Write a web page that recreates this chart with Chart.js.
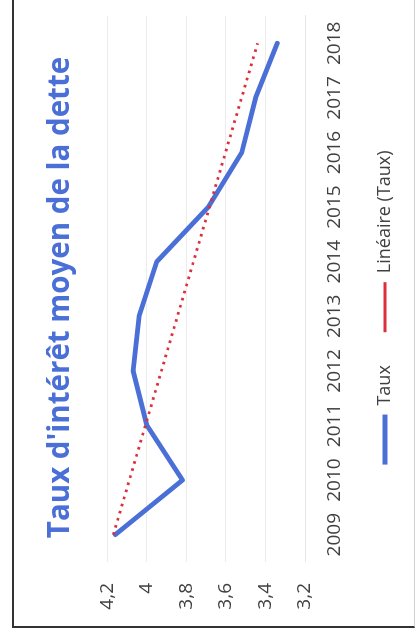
<!DOCTYPE html>
<html>
<head>
<meta charset="utf-8">
<script src="https://cdn.jsdelivr.net/npm/chart.js@4.4.1/dist/chart.umd.min.js"></script>
<style>
  html, body { margin:0; padding:0; background:#fff; }
  body { width:416px; height:643px; overflow:hidden; position:relative; }
  #page { position:absolute; left:0; top:0; width:690px; height:416px;
          transform-origin:0 0; transform:translate(0px,643px) rotate(-90deg); background:#fff; }
  #frame { position:absolute; left:15px; top:12px; width:680px; height:400px;
           border-left:2px solid #333; border-top:2px solid #333; border-bottom:1px solid #d0d0d0; }
  #box { position:absolute; left:15px; top:13px; width:661px; height:391px; }
</style>
</head>
<body>
<div id="page">
  <div id="frame"></div>
  <div id="box"><canvas id="chart"></canvas></div>
</div>
<script>
const years = ['2009','2010','2011','2012','2013','2014','2015','2016','2017','2018']
const taux = [4.16, 3.82, 4.00, 4.07, 4.04, 3.95, 3.69, 3.52, 3.45, 3.34]
// trend line: only its two ends
const tendance = [4.17, null, null, null, null, null, null, null, null, 3.44]
const valueTicks = [3.2, 3.4, 3.6, 3.8, 4.0, 4.2]

const BLUE = '#4a6fd6'
const RED = '#dc2f3c'
const TXT = '#404040'
const FONT = "'Open Sans', 'DejaVu Sans', sans-serif"

function fmt(v){ return String(+v.toFixed(1)).replace('.', ',') }

// legend sits a little left of the title's centre in the original
const legendNudge = {
  id:'legendNudge',
  afterLayout(chart){ if(chart.legend) chart.legend.right -= 20 }
}

new Chart(document.getElementById('chart'), {
  type: 'line',
  data: {
    labels: years,
    datasets: [
      {label:'Linéaire (Taux)', data:tendance, spanGaps:true, borderColor:RED, backgroundColor:RED,
       borderWidth:2.8, borderDash:[2.6, 4.8], borderCapStyle:'butt', pointRadius:0, tension:0},
      {label:'Taux', data:taux, borderColor:BLUE, backgroundColor:BLUE,
       borderWidth:4.8, borderCapStyle:'round', borderJoinStyle:'round', pointRadius:0, tension:0}
    ]
  },
  options: {
    responsive:true,
    maintainAspectRatio:false,
    animation:false,
    layout:{ padding:0 },
    scales:{
      x:{
        offset:true,
        grid:{display:false, drawTicks:false},
        border:{display:true, color:'#e6e6e6'},
        ticks:{color:TXT, font:{family:FONT, size:19}, padding:18, maxRotation:0, autoSkip:false},
        afterFit: s => { s.height = 38 }
      },
      y:{
        min:3.2, max:4.2,
        afterBuildTicks: s => { s.ticks = valueTicks.map(v => ({value:v})) },
        grid:{color:'#ececec', drawTicks:false},
        border:{display:false},
        ticks:{color:TXT, font:{family:FONT, size:19}, padding:21, callback: v => fmt(v)},
        afterFit: s => { s.width = 66 }
      },
      // empty right-hand strip, keeps the plot clear of the frame edge
      y2:{
        position:'right',
        grid:{display:false, drawTicks:false},
        border:{display:false},
        ticks:{display:false},
        afterFit: s => { s.width = 49 }
      }
    },
    plugins:{
      title:{display:true, text:"Taux d'intérêt moyen de la dette", color:BLUE,
             font:{family:FONT, size:29.5, weight:'bold'}, padding:{top:30, bottom:29}},
      legend:{position:'bottom', reverse:true,
              labels:{usePointStyle:true, pointStyle:'line', pointStyleWidth:50,
                      color:TXT, font:{family:FONT, size:18}, padding:33}},
      tooltip:{enabled:false}
    }
  },
  plugins:[legendNudge]
})
</script>
</body>
</html>
